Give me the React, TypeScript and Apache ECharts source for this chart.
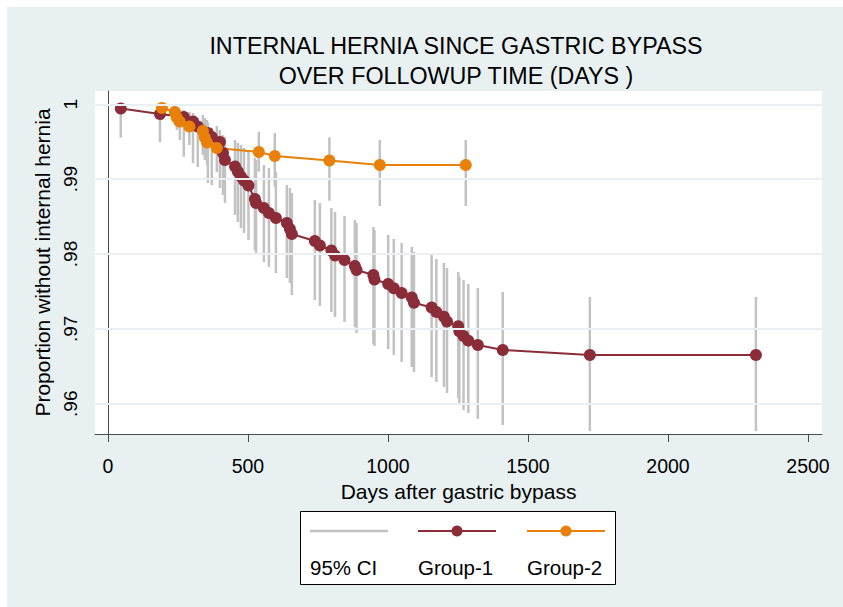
import React, { useEffect, useRef } from "react";
import * as echarts from "echarts";

const titleLines = ["INTERNAL HERNIA SINCE GASTRIC BYPASS", "OVER FOLLOWUP TIME (DAYS )"];
const xAxisTitle = "Days after gastric bypass";
const yAxisTitle = "Proportion without internal hernia";
const xTicks = [0, 500, 1000, 1500, 2000, 2500];
const yTicks = [0.96, 0.97, 0.98, 0.99, 1];
const legendLabels = ["95% CI", "Group-1", "Group-2"];

// Group-1
const g1Days = [46, 186, 271, 304, 321, 357, 371, 400, 411, 418, 454, 464, 475, 486, 502, 525, 529, 557, 575, 600, 639, 650, 657, 739, 757, 798, 811, 845, 882, 888, 948, 952, 1001, 1021, 1049, 1085, 1093, 1156, 1173, 1200, 1211, 1251, 1255, 1270, 1287, 1321, 1410, 1721, 2314];
const g1Surv = [0.99944, 0.9987, 0.9983, 0.9977, 0.99703, 0.99617, 0.99563, 0.99496, 0.99349, 0.99256, 0.99169, 0.99102, 0.99035, 0.98982, 0.98915, 0.98735, 0.98681, 0.98615, 0.98548, 0.98481, 0.98414, 0.98334, 0.98267, 0.98174, 0.98114, 0.98047, 0.9798, 0.9792, 0.9784, 0.97786, 0.97719, 0.97659, 0.97599, 0.97542, 0.97479, 0.97419, 0.97349, 0.97285, 0.97225, 0.97162, 0.97098, 0.97034, 0.96967, 0.96904, 0.96842, 0.96784, 0.96717, 0.96651, 0.96651];
const g1Lo = [0.99554, 0.99496, 0.993, 0.99216, 0.99162, 0.98949, 0.98922, 0.98882, 0.98788, 0.98681, 0.98521, 0.98428, 0.98347, 0.98281, 0.98187, 0.98053, 0.97987, 0.97893, 0.97826, 0.97746, 0.97679, 0.97613, 0.97452, 0.97385, 0.97305, 0.97225, 0.97159, 0.97092, 0.97025, 0.96945, 0.96798, 0.96771, 0.96731, 0.96651, 0.96558, 0.96491, 0.96424, 0.96357, 0.9629, 0.96223, 0.96143, 0.96076, 0.95983, 0.95916, 0.95876, 0.95796, 0.95715, 0.95635, 0.95635];
const g1Hi = [0.99996, 0.9996, 0.99924, 0.99884, 0.99817, 0.9975, 0.99683, 0.99657, 0.9959, 0.99563, 0.99523, 0.99483, 0.99456, 0.99416, 0.99389, 0.99284, 0.99256, 0.99189, 0.99149, 0.99096, 0.98922, 0.98882, 0.98815, 0.98721, 0.98681, 0.98615, 0.98561, 0.98508, 0.98454, 0.98414, 0.98361, 0.98321, 0.98254, 0.98201, 0.98147, 0.98094, 0.98027, 0.97987, 0.97933, 0.9788, 0.97813, 0.9776, 0.97693, 0.97653, 0.97599, 0.97546, 0.97492, 0.97425, 0.97425];

// Group-2
const g2Days = [193, 239, 246, 257, 291, 339, 346, 354, 389, 539, 596, 791, 971, 1278];
const g2Surv = [0.99951, 0.99897, 0.99824, 0.99768, 0.99703, 0.99643, 0.99556, 0.9949, 0.99416, 0.99363, 0.99309, 0.99249, 0.99189, 0.99189];
const g2Lo = [0.9979, 0.99723, 0.99657, 0.99523, 0.99456, 0.99323, 0.99256, 0.99189, 0.99096, 0.991, 0.98899, 0.98712, 0.98641, 0.98641];
const g2Hi = [0.99997, 0.99991, 0.99964, 0.99924, 0.99897, 0.99857, 0.99817, 0.9979, 0.9971, 0.99634, 0.99617, 0.99559, 0.99523, 0.99523];

const FONT = "Liberation Sans, Arial, Helvetica, sans-serif";
const C_G1 = "#8a2d38";
const C_G2 = "#e8800a";
const C_CI = "#c2c2c2";
const C_BG = "#e8f0f2";
const C_GRIDLINE = "#e9eff2";
const C_AXIS = "#4a4a4a";

export default function App() {
  const ref = useRef<HTMLDivElement>(null);

  useEffect(() => {
    const chart = echarts.init(ref.current!, null, { renderer: "svg" });

    const ciData: number[][] = [];
    g1Days.forEach((d, i) => ciData.push([d, g1Lo[i], g1Hi[i]]));
    g2Days.forEach((d, i) => ciData.push([d, g2Lo[i], g2Hi[i]]));

    const g1Data = g1Days.map((d, i) => [d, g1Surv[i]]);
    const g2Data = g2Days.map((d, i) => [d, g2Surv[i]]);

    const option: any = {
      animation: false,
      backgroundColor: C_BG,
      textStyle: { fontFamily: FONT },
      grid: {
        left: 95,
        right: 21,
        top: 91,
        bottom: 173,
        show: true,
        backgroundColor: "#ffffff",
        borderWidth: 0,
        containLabel: false,
      },
      xAxis: {
        type: "value",
        min: -46,
        max: 2550,
        name: xAxisTitle,
        nameLocation: "middle",
        nameGap: 45,
        nameTextStyle: { fontSize: 21, color: "#000", fontFamily: FONT },
        axisLine: { show: true, lineStyle: { color: C_AXIS, width: 1 } },
        axisTick: { show: true, length: 8, customValues: xTicks, lineStyle: { color: C_AXIS } },
        axisLabel: {
          customValues: xTicks,
          fontSize: 19.5,
          color: "#000",
          margin: 22,
          fontFamily: FONT,
          formatter: (v: number) => String(v),
        },
        splitLine: { show: false },
      },
      yAxis: {
        type: "value",
        min: 0.955952,
        max: 1.001777,
        name: yAxisTitle,
        nameLocation: "middle",
        nameRotate: 90,
        nameGap: 38,
        nameTextStyle: { fontSize: 21, color: "#000", fontFamily: FONT },
        axisLine: { show: true, lineStyle: { color: C_AXIS, width: 1 } },
        axisTick: { show: true, length: 9, customValues: yTicks, lineStyle: { color: C_AXIS } },
        axisLabel: {
          customValues: yTicks,
          rotate: 90,
          fontSize: 19,
          color: "#000",
          margin: 15,
          fontFamily: FONT,
          formatter: (v: number) => (v === 1 ? "1" : String(v).replace(/^0/, "")),
        },
        splitLine: { show: false },
      },
      graphic: [
        { type: "rect", shape: { x: 0, y: 0, width: 843, height: 7 }, style: { fill: "#fff" }, silent: true },
        { type: "rect", shape: { x: 0, y: 0, width: 7, height: 607 }, style: { fill: "#fff" }, silent: true },
        {
          type: "text",
          x: 456,
          y: 46,
          style: { text: titleLines[0], font: `23.3px ${FONT}`, fill: "#000", textAlign: "center", textVerticalAlign: "middle" },
        },
        {
          type: "text",
          x: 456,
          y: 76,
          style: { text: titleLines[1], font: `23.3px ${FONT}`, fill: "#000", textAlign: "center", textVerticalAlign: "middle" },
        },
        {
          type: "group",
          z: 100,
          children: [
            { type: "rect", shape: { x: 300.5, y: 511.5, width: 315, height: 73 }, style: { fill: "#fff", stroke: "#000", lineWidth: 1 } },
            { type: "line", shape: { x1: 310, y1: 531, x2: 388, y2: 531 }, style: { stroke: C_CI, lineWidth: 2.5 } },
            { type: "line", shape: { x1: 418, y1: 531, x2: 496, y2: 531 }, style: { stroke: C_G1, lineWidth: 2 } },
            { type: "circle", shape: { cx: 457, cy: 531, r: 5.5 }, style: { fill: C_G1 } },
            { type: "line", shape: { x1: 527, y1: 531, x2: 605, y2: 531 }, style: { stroke: C_G2, lineWidth: 2 } },
            { type: "circle", shape: { cx: 566, cy: 531, r: 5.5 }, style: { fill: C_G2 } },
            { type: "text", x: 310, y: 567.5, style: { text: legendLabels[0], font: `20.5px ${FONT}`, fill: "#000", textVerticalAlign: "middle" } },
            { type: "text", x: 418, y: 567.5, style: { text: legendLabels[1], font: `20.5px ${FONT}`, fill: "#000", textVerticalAlign: "middle" } },
            { type: "text", x: 527, y: 567.5, style: { text: legendLabels[2], font: `20.5px ${FONT}`, fill: "#000", textVerticalAlign: "middle" } },
          ],
        },
      ],
      series: [
        {
          type: "line",
          data: [],
          silent: true,
          markLine: {
            silent: true,
            symbol: ["none", "none"],
            label: { show: false },
            lineStyle: { color: C_GRIDLINE, width: 2, type: "solid" },
            data: yTicks.map((v) => ({ yAxis: v })),
          },
        },
        {
          type: "custom",
          silent: true,
          data: ciData,
          encode: { x: 0, y: [1, 2] },
          renderItem: (_params: any, api: any) => {
            const x = api.value(0);
            const p1 = api.coord([x, api.value(1)]);
            const p2 = api.coord([x, api.value(2)]);
            return {
              type: "line",
              shape: { x1: p1[0], y1: p1[1], x2: p2[0], y2: p2[1] },
              style: { stroke: C_CI, lineWidth: 2.5 },
            };
          },
        },
        {
          type: "line",
          name: "Group-1",
          data: g1Data,
          symbol: "circle",
          symbolSize: 12,
          showAllSymbol: true,
          itemStyle: { color: C_G1 },
          lineStyle: { color: C_G1, width: 2 },
        },
        {
          type: "line",
          name: "Group-2",
          data: g2Data,
          symbol: "circle",
          symbolSize: 12,
          showAllSymbol: true,
          itemStyle: { color: C_G2 },
          lineStyle: { color: C_G2, width: 2 },
        },
      ],
    };

    chart.setOption(option);
    return () => chart.dispose();
  }, []);

  return <div ref={ref} style={{ position: "fixed", left: 0, top: 0, width: 843, height: 607 }} />;
}
